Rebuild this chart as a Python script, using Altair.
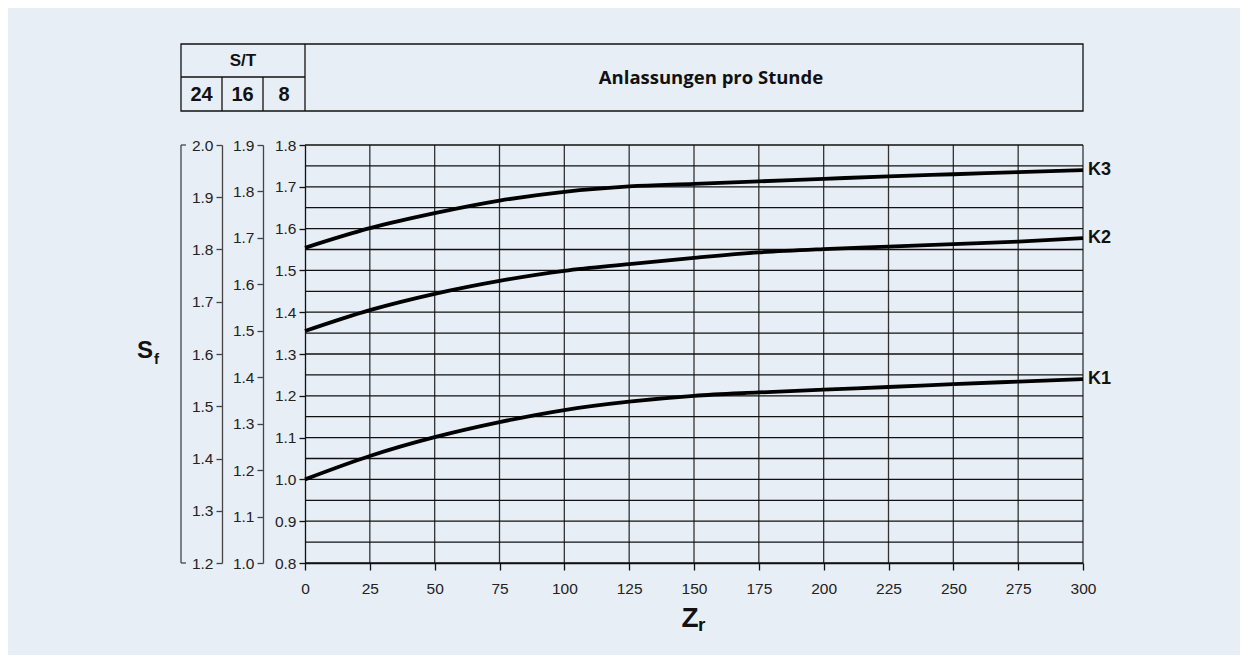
import altair as alt
import pandas as pd

# ---- data ----
zr = [0, 25, 50, 75, 100, 125, 150, 175, 200, 225, 250, 275, 300]
k1 = [1.000, 1.056, 1.101, 1.137, 1.166, 1.186, 1.200, 1.208, 1.215, 1.221, 1.228, 1.234, 1.240]
k2 = [1.355, 1.405, 1.444, 1.475, 1.499, 1.515, 1.530, 1.543, 1.551, 1.557, 1.563, 1.569, 1.577]
k3 = [1.554, 1.601, 1.637, 1.667, 1.688, 1.701, 1.707, 1.713, 1.719, 1.725, 1.730, 1.735, 1.740]
series_names = ["K1", "K2", "K3"]

x_ticks = [0, 25, 50, 75, 100, 125, 150, 175, 200, 225, 250, 275, 300]
y_inner = [0.8, 0.9, 1.0, 1.1, 1.2, 1.3, 1.4, 1.5, 1.6, 1.7, 1.8]
y_mid = [1.0, 1.1, 1.2, 1.3, 1.4, 1.5, 1.6, 1.7, 1.8, 1.9]
y_outer = [1.2, 1.3, 1.4, 1.5, 1.6, 1.7, 1.8, 1.9, 2.0]
grid_y = [0.8, 0.85, 0.9, 0.95, 1.0, 1.05, 1.1, 1.15, 1.2, 1.25, 1.3, 1.35, 1.4,
          1.45, 1.5, 1.55, 1.6, 1.65, 1.7, 1.75, 1.8]
grid_x = [25, 50, 75, 100, 125, 150, 175, 200, 225, 250, 275, 300]
header_shifts = ["24", "16", "8"]
header_group = "S/T"
header_title = "Anlassungen pro Stunde"

W, H = 778, 418
FONT = "Liberation Sans"
BG = "#e8eef6"
TICKFS = 15.5

rows = []
for name, vals in zip(series_names, [k1, k2, k3]):
    for x, v in zip(zr, vals):
        rows.append({"zr": x, "sf": v, "k": name})
curves = pd.DataFrame(rows)
ends = curves[curves["zr"] == zr[-1]]

xs = alt.Scale(domain=[0, 300], nice=False, zero=False)
ys_inner = alt.Scale(domain=[0.8, 1.8], nice=False, zero=False)
ys_mid = alt.Scale(domain=[1.0, 1.9], nice=False, zero=False)
ys_outer = alt.Scale(domain=[1.2, 2.0], nice=False, zero=False)

x_axis = alt.Axis(values=x_ticks, title=None, grid=False, domain=True,
                  domainColor="#111", domainWidth=1.3, tickColor="#111",
                  tickWidth=1.3, tickSize=7, labelPadding=11, labelFontSize=TICKFS,
                  labelFont=FONT, labelColor="#222", labelFlush=False)

# horizontal grid
hgrid = alt.Chart(pd.DataFrame({"g": grid_y})).mark_rule(
    color="#111", strokeWidth=1.3).encode(
    y=alt.Y("g:Q", scale=ys_inner,
            axis=alt.Axis(values=y_inner, format=".1f", title=None, grid=False,
                          domainColor="#111", domainWidth=1.3, tickColor="#111",
                          tickWidth=1.3, tickSize=6, labelPadding=3,
                          labelFontSize=TICKFS, labelFont=FONT, labelColor="#222")),
    x=alt.value(0), x2=alt.value(W))

# vertical grid
vgrid = alt.Chart(pd.DataFrame({"g": grid_x})).mark_rule(
    color="#333", strokeWidth=1.3).encode(
    x=alt.X("g:Q", scale=xs, axis=x_axis),
    y=alt.value(0), y2=alt.value(H))

lines = alt.Chart(curves).mark_line(
    color="#000", strokeWidth=3.8, interpolate="monotone").encode(
    x=alt.X("zr:Q", scale=xs, axis=x_axis),
    y=alt.Y("sf:Q", scale=ys_inner, axis=None),
    detail="k:N")

labels = alt.Chart(ends).mark_text(
    align="left", baseline="middle", dx=5, fontSize=18, fontWeight="bold",
    font=FONT, color="#111").encode(
    x=alt.X("zr:Q", scale=xs, axis=x_axis),
    y=alt.Y("sf:Q", scale=ys_inner, axis=None),
    text="k:N")

# middle axis (1.0 - 1.9)
mid = alt.Chart(pd.DataFrame({"v": y_mid})).mark_point(opacity=0).encode(
    y=alt.Y("v:Q", scale=ys_mid,
            axis=alt.Axis(values=y_mid, format=".1f", title=None, orient="left",
                          offset=42, grid=False, domainColor="#444",
                          domainWidth=1.3, tickColor="#444", tickWidth=1.3,
                          tickSize=6, labelPadding=3, labelFontSize=TICKFS,
                          labelFont=FONT, labelColor="#222")),
    x=alt.value(0))

# outer axis (1.2 - 2.0)
outer = alt.Chart(pd.DataFrame({"v": y_outer})).mark_point(opacity=0).encode(
    y=alt.Y("v:Q", scale=ys_outer,
            axis=alt.Axis(values=y_outer, format=".1f", title=None, orient="left",
                          offset=83, grid=False, domainColor="#444",
                          domainWidth=1.3, tickColor="#444", tickWidth=1.3,
                          tickSize=6, labelPadding=3, labelFontSize=TICKFS,
                          labelFont=FONT, labelColor="#222")),
    x=alt.value(0))

ends_outer = pd.DataFrame({"v": [y_outer[0], y_outer[-1]]})
bracket = alt.Chart(pd.DataFrame({"a": [y_outer[0]], "b": [y_outer[-1]]})).mark_rule(
    color="#444", strokeWidth=1.3).encode(
    y=alt.Y("a:Q", scale=ys_outer, axis=None), y2="b:Q",
    x=alt.value(-124))
bracket_caps = alt.Chart(ends_outer).mark_rule(
    color="#444", strokeWidth=1.3).encode(
    y=alt.Y("v:Q", scale=ys_outer, axis=None),
    x=alt.value(-124), x2=alt.value(-119))

one = pd.DataFrame({"a": [0]})
# header table
box = alt.Chart(one).mark_rect(fill=BG, stroke="#111", strokeWidth=1.3).encode(
    x=alt.value(-124), x2=alt.value(W), y=alt.value(-101), y2=alt.value(-34))
hdr_lines = alt.layer(
    alt.Chart(one).mark_rule(color="#111", strokeWidth=1.3).encode(
        x=alt.value(0), y=alt.value(-101), y2=alt.value(-34)),
    alt.Chart(one).mark_rule(color="#111", strokeWidth=1.3).encode(
        x=alt.value(-124), x2=alt.value(0), y=alt.value(-68)),
    alt.Chart(one).mark_rule(color="#111", strokeWidth=1.3).encode(
        x=alt.value(-83), y=alt.value(-68), y2=alt.value(-34)),
    alt.Chart(one).mark_rule(color="#111", strokeWidth=1.3).encode(
        x=alt.value(-42), y=alt.value(-68), y2=alt.value(-34)),
)
hdr_text = alt.layer(
    alt.Chart(one).mark_text(text=header_group, fontSize=17, fontWeight="bold",
                             font=FONT, color="#111", baseline="middle").encode(
        x=alt.value(-62), y=alt.value(-84)),
    alt.Chart(one).mark_text(text=header_shifts[0], fontSize=20, fontWeight="bold",
                             font=FONT, color="#111", baseline="middle").encode(
        x=alt.value(-103.5), y=alt.value(-50)),
    alt.Chart(one).mark_text(text=header_shifts[1], fontSize=20, fontWeight="bold",
                             font=FONT, color="#111", baseline="middle").encode(
        x=alt.value(-62.5), y=alt.value(-50)),
    alt.Chart(one).mark_text(text=header_shifts[2], fontSize=20, fontWeight="bold",
                             font=FONT, color="#111", baseline="middle").encode(
        x=alt.value(-21), y=alt.value(-50)),
    alt.Chart(one).mark_text(text=header_title, fontSize=18.5, fontWeight="bold",
                             font="Open Sans", color="#111", baseline="middle").encode(
        x=alt.value(406), y=alt.value(-67)),
)
# axis titles with subscripts
titles = alt.layer(
    alt.Chart(one).mark_text(text="S", fontSize=24, fontWeight="bold", font=FONT,
                             color="#111", align="center", baseline="alphabetic").encode(
        x=alt.value(-160), y=alt.value(213)),
    alt.Chart(one).mark_text(text="f", fontSize=15, fontWeight="bold", font=FONT,
                             color="#111", align="left", baseline="alphabetic").encode(
        x=alt.value(-151), y=alt.value(219)),
    alt.Chart(one).mark_text(text="Z", fontSize=28, fontWeight="bold", font=FONT,
                             color="#111", align="center", baseline="alphabetic").encode(
        x=alt.value(385), y=alt.value(482)),
    alt.Chart(one).mark_text(text="r", fontSize=19, fontWeight="bold", font=FONT,
                             color="#111", align="left", baseline="alphabetic").encode(
        x=alt.value(393), y=alt.value(486)),
)

chart = alt.layer(
    box, hdr_lines, hdr_text, titles,
    vgrid, hgrid, lines, labels,
    mid, outer, bracket, bracket_caps,
).resolve_scale(y="independent").properties(
    width=W, height=H,
    autosize=alt.AutoSizeParams(type="none"),
    padding={"left": 297, "top": 137, "right": 157, "bottom": 92},
    background=BG,
).configure_view(stroke=None)

chart.save("out.html", embed_options={"renderer": "svg", "actions": False})
